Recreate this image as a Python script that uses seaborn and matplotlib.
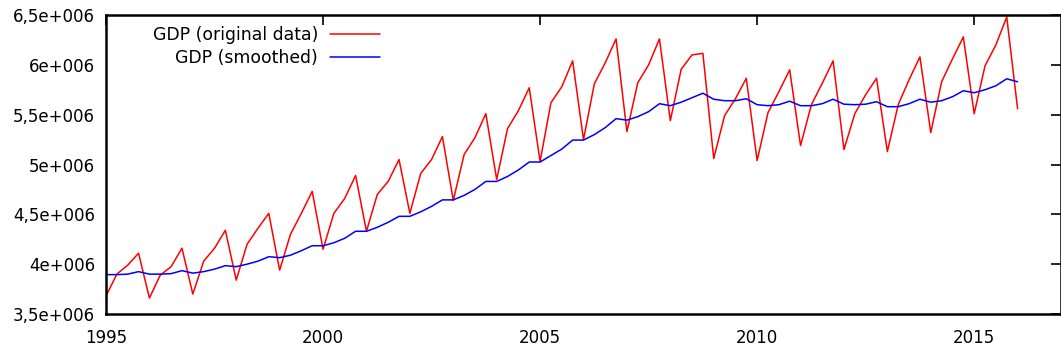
import numpy as np
import pandas as pd
import matplotlib
matplotlib.use("Agg")
import matplotlib.pyplot as plt
import seaborn as sns

# Quarterly time axis (1995.0 .. 2016.0)
start_year = 1995
quarters_per_year = 4

gdp_original = [
    3.68, 3.90, 3.99, 4.11,
    3.66, 3.89, 3.975, 4.16,
    3.70, 4.03, 4.16, 4.34,
    3.84, 4.20, 4.36, 4.51,
    3.94, 4.30, 4.51, 4.73,
    4.15, 4.51, 4.66, 4.89,
    4.33, 4.70, 4.83, 5.05,
    4.51, 4.91, 5.05, 5.28,
    4.64, 5.10, 5.27, 5.51,
    4.85, 5.36, 5.54, 5.77,
    5.03, 5.62, 5.78, 6.04,
    5.25, 5.81, 6.02, 6.26,
    5.33, 5.82, 6.00, 6.26,
    5.44, 5.955, 6.10, 6.115,
    5.06, 5.49, 5.66, 5.865,
    5.04, 5.52, 5.73, 5.95,
    5.19, 5.60, 5.815, 6.04,
    5.15, 5.51, 5.70, 5.865,
    5.13, 5.60, 5.85, 6.08,
    5.32, 5.83, 6.06, 6.28,
    5.51, 5.99, 6.20, 6.48,
    5.56,
]

gdp_smoothed = [
    3.895, 3.895, 3.90, 3.925,
    3.90, 3.90, 3.905, 3.935,
    3.91, 3.925, 3.95, 3.985,
    3.975, 4.00, 4.03, 4.075,
    4.065, 4.09, 4.135, 4.185,
    4.185, 4.215, 4.26, 4.33,
    4.33, 4.37, 4.42, 4.48,
    4.48, 4.525, 4.58, 4.645,
    4.645, 4.69, 4.75, 4.83,
    4.83, 4.88, 4.945, 5.025,
    5.025, 5.09, 5.155, 5.245,
    5.245, 5.30, 5.37, 5.46,
    5.445, 5.48, 5.53, 5.61,
    5.59, 5.625, 5.67, 5.715,
    5.655, 5.64, 5.64, 5.66,
    5.60, 5.59, 5.60, 5.635,
    5.59, 5.59, 5.61, 5.655,
    5.605, 5.60, 5.605, 5.63,
    5.58, 5.58, 5.61, 5.655,
    5.625, 5.64, 5.68, 5.74,
    5.72, 5.75, 5.79, 5.86,
    5.83,
]

x_ticks = [1995, 2000, 2005, 2010, 2015]
y_ticks = [3.5e6, 4.0e6, 4.5e6, 5.0e6, 5.5e6, 6.0e6, 6.5e6]
y_tick_labels = ["3,5e+006", "4e+006", "4,5e+006", "5e+006", "5,5e+006", "6e+006", "6,5e+006"]
labels = ["GDP (original data)", "GDP (smoothed)"]

n = len(gdp_original)
time = start_year + np.arange(n) / quarters_per_year
df = pd.DataFrame({
    "time": time,
    "orig": np.array(gdp_original) * 1e6,
    "smooth": np.array(gdp_smoothed) * 1e6,
})

sns.set_style("white")
plt.rcParams["font.family"] = ["DejaVu Sans"]
plt.rcParams["font.size"] = 12
plt.rcParams["text.color"] = "black"

fig = plt.figure(figsize=(10.61, 3.54), dpi=100)
ax = fig.add_axes([106 / 1061, 1 - 314 / 354, (1061 - 106) / 1061, (314 - 15) / 354])

sns.lineplot(data=df, x="time", y="orig", color="#ff0000", linewidth=1.1, label=labels[0], ax=ax)
sns.lineplot(data=df, x="time", y="smooth", color="#0000ff", linewidth=1.1, label=labels[1], ax=ax)

ax.set_xlim(1995, 2017)
ax.set_ylim(3.5e6, 6.5e6)
ax.set_xticks(x_ticks)
ax.set_xticklabels([str(t) for t in x_ticks])
ax.set_yticks(y_ticks)
ax.set_yticklabels(y_tick_labels)
ax.set_xlabel("")
ax.set_ylabel("")

for s in ax.spines.values():
    s.set_visible(True)
    s.set_color("black")
    s.set_linewidth(1.8)

ax.tick_params(axis="both", which="major", direction="in", length=7, width=1.2,
               top=True, right=True, labelsize=12, colors="black")
ax.tick_params(axis="y", pad=8)
ax.tick_params(axis="x", pad=11)

leg = ax.legend(loc="upper right", bbox_to_anchor=(0.287, 0.962), frameon=False,
                markerfirst=False, handlelength=2.9, handletextpad=0.7,
                labelspacing=0.25, borderpad=0, borderaxespad=0,
                prop={"size": 12.4})
for t in leg.get_texts():
    t.set_color("black")

fig.savefig("out.png", dpi=100)
